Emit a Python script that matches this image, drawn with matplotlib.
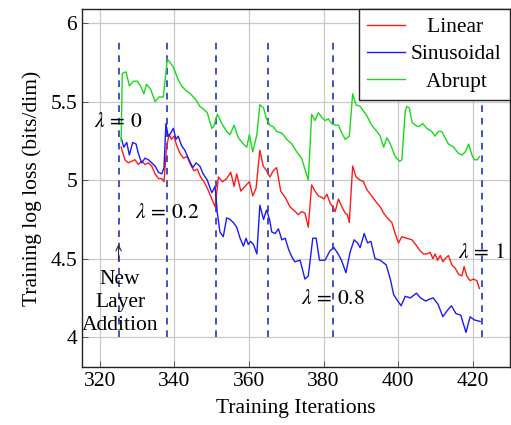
import matplotlib
matplotlib.use("Agg")
import matplotlib.pyplot as plt

plt.rcParams['font.family'] = ['Liberation Serif', 'DejaVu Serif']
plt.rcParams['mathtext.fontset'] = 'stix'

# ---- data ----
linear_x = [325.7, 326.7, 327.6, 328.5, 329.4, 330.3, 331.2, 332.1, 333.0, 333.9, 334.8, 335.7, 336.6, 337.2,
            337.9, 338.6, 339.2, 339.9, 340.6, 341.5, 342.4, 343.4, 344.3, 345.2, 346.1, 347.0, 347.9, 348.8,
            349.5, 350.2, 350.9, 351.8, 352.9, 354.0, 355.1, 356.0, 356.7, 357.8, 358.9, 360.1, 361.0, 361.9,
            362.9, 363.8, 364.7, 365.6, 366.5, 367.4, 368.5, 369.7, 371.0, 372.4, 373.2, 374.1, 375.0, 375.9,
            376.8, 377.7, 378.6, 379.5, 380.1, 380.9, 381.8, 382.5, 383.1, 384.0, 384.9, 385.8, 386.4, 386.9,
            387.8, 388.7, 389.8, 390.7, 391.6, 392.9, 394.1, 395.2, 396.1, 397.1, 398.3, 399.2, 400.1, 401.0,
            402.3, 403.7, 405.0, 405.9, 406.8, 407.7, 408.6, 409.3, 409.9, 410.6, 411.3, 412.0, 412.6, 413.5,
            414.4, 415.3, 416.2, 417.1, 417.7, 418.4, 419.3, 420.2, 421.1, 421.8]
linear_y = [5.21, 5.13, 5.11, 5.12, 5.13, 5.10, 5.12, 5.10, 5.11, 5.09, 5.04, 5.01, 5.01, 4.99,
            5.22, 5.29, 5.26, 5.28, 5.22, 5.17, 5.14, 5.15, 5.10, 5.06, 5.07, 5.02, 4.99, 4.95,
            4.91, 4.87, 4.83, 5.02, 4.99, 5.01, 5.05, 4.96, 5.04, 4.93, 4.96, 4.99, 4.90, 4.95,
            5.19, 5.09, 5.06, 5.02, 5.06, 5.08, 4.93, 4.89, 4.83, 4.80, 4.78, 4.80, 4.79, 4.70,
            4.97, 4.93, 4.90, 4.89, 4.88, 4.91, 4.85, 4.83, 4.80, 4.88, 4.83, 4.79, 4.78, 4.73,
            5.09, 5.02, 5.00, 4.99, 4.94, 4.90, 4.86, 4.83, 4.79, 4.76, 4.73, 4.66, 4.60, 4.64,
            4.63, 4.62, 4.58, 4.55, 4.53, 4.53, 4.54, 4.50, 4.53, 4.49, 4.52, 4.48, 4.50, 4.52,
            4.46, 4.44, 4.40, 4.39, 4.45, 4.39, 4.36, 4.37, 4.36, 4.31]

sinusoidal_x = [325.7, 326.4, 327.2, 327.9, 328.8, 329.7, 330.3, 331.2, 332.1, 333.0, 333.9, 334.8, 335.7, 336.6,
                337.2, 337.7, 338.3, 339.0, 339.7, 340.4, 341.0, 341.9, 342.8, 343.7, 344.9, 345.8, 346.8, 347.7,
                348.8, 349.7, 350.0, 350.9, 351.5, 352.2, 353.1, 354.0, 354.9, 355.8, 356.7, 357.6, 358.5, 359.2,
                359.8, 360.4, 361.2, 362.1, 362.9, 363.9, 364.7, 365.5, 366.1, 367.0, 367.9, 368.8, 369.7, 370.6,
                371.5, 372.3, 373.7, 375.0, 375.9, 377.1, 378.0, 378.9, 380.4, 381.7, 382.8, 383.9, 384.8, 386.0,
                387.1, 388.2, 389.1, 389.8, 390.9, 391.8, 392.7, 393.8, 395.2, 396.8, 397.9, 398.8, 399.9, 400.8,
                401.9, 403.3, 404.9, 406.0, 407.4, 408.2, 409.4, 410.7, 412.0, 413.2, 414.3, 415.5, 416.8, 418.2,
                419.3, 420.4, 422.0]
sinusoidal_y = [5.27, 5.21, 5.24, 5.16, 5.24, 5.23, 5.17, 5.11, 5.14, 5.13, 5.11, 5.09, 5.05, 5.04,
                5.08, 5.36, 5.28, 5.30, 5.33, 5.26, 5.28, 5.22, 5.19, 5.14, 5.08, 5.11, 5.09, 5.04,
                5.00, 4.94, 4.92, 4.96, 4.79, 4.67, 4.64, 4.76, 4.75, 4.73, 4.70, 4.63, 4.58, 4.63,
                4.59, 4.61, 4.59, 4.53, 4.84, 4.75, 4.81, 4.75, 4.67, 4.66, 4.69, 4.62, 4.63, 4.56,
                4.51, 4.48, 4.49, 4.37, 4.39, 4.63, 4.63, 4.49, 4.49, 4.55, 4.57, 4.53, 4.49, 4.41,
                4.54, 4.62, 4.60, 4.57, 4.66, 4.60, 4.61, 4.50, 4.49, 4.46, 4.37, 4.27, 4.23, 4.20,
                4.26, 4.25, 4.28, 4.25, 4.23, 4.24, 4.25, 4.21, 4.13, 4.17, 4.20, 4.15, 4.14, 4.03,
                4.13, 4.11, 4.10]

abrupt_x = [325.7, 326.0, 327.0, 327.9, 329.0, 330.0, 330.9, 331.8, 332.5, 333.6, 334.8, 335.9, 337.0, 338.1,
            338.8, 339.7, 341.0, 341.9, 343.1, 344.3, 345.8, 346.8, 347.9, 348.8, 350.0, 350.5, 351.5, 352.7,
            354.0, 354.9, 356.0, 357.1, 358.5, 359.4, 360.1, 361.0, 362.1, 362.9, 363.9, 364.7, 365.6, 366.5,
            367.4, 368.8, 370.1, 371.5, 372.8, 374.1, 375.9, 376.8, 377.7, 378.6, 379.5, 380.4, 381.3, 382.2,
            383.1, 384.0, 384.9, 385.8, 386.9, 387.8, 388.7, 389.8, 390.7, 391.6, 392.9, 394.3, 395.2, 396.1,
            397.0, 397.9, 399.2, 400.4, 401.0, 401.9, 402.3, 403.0, 403.7, 404.6, 405.5, 406.6, 407.7, 409.0,
            409.9, 410.8, 411.7, 412.6, 413.5, 414.9, 416.2, 417.1, 418.0, 418.9, 419.8, 420.4, 421.3, 421.8]
abrupt_y = [5.25, 5.68, 5.69, 5.60, 5.63, 5.63, 5.60, 5.55, 5.61, 5.58, 5.50, 5.53, 5.53, 5.77,
            5.75, 5.72, 5.64, 5.60, 5.57, 5.55, 5.51, 5.47, 5.45, 5.43, 5.33, 5.34, 5.42, 5.36,
            5.31, 5.29, 5.35, 5.27, 5.23, 5.21, 5.29, 5.18, 5.29, 5.48, 5.46, 5.39, 5.35, 5.34,
            5.31, 5.30, 5.26, 5.23, 5.18, 5.14, 5.00, 5.42, 5.38, 5.43, 5.40, 5.38, 5.39, 5.36,
            5.35, 5.35, 5.30, 5.26, 5.28, 5.55, 5.48, 5.47, 5.44, 5.41, 5.35, 5.31, 5.28, 5.21,
            5.27, 5.23, 5.15, 5.12, 5.13, 5.44, 5.47, 5.46, 5.37, 5.35, 5.34, 5.36, 5.33, 5.31,
            5.28, 5.31, 5.31, 5.27, 5.23, 5.21, 5.17, 5.16, 5.18, 5.23, 5.16, 5.13, 5.13, 5.15]

series_labels = ['Linear', 'Sinusoidal', 'Abrupt']
lambda_x = [325, 338, 351.2, 365.2, 382.4, 422.4]
lambda_texts = [r'$\lambda\,=\,0$', r'$\lambda\,=\,0.2$', r'$\lambda\,=\,0.8$', r'$\lambda\,=\,1$']
lambda_text_x = [325, 338, 382.4, 422.4]
lambda_text_y = [5.37, 4.79, 4.24, 4.53]
x_ticks = [320, 340, 360, 380, 400, 420]
y_ticks = [4, 4.5, 5, 5.5, 6]
y_ticklabels = ['4', '4.5', '5', '5.5', '6']

# ---- figure ----
fig = plt.figure(figsize=(5.11, 4.25), dpi=100)
ax = fig.add_axes([0.1605, 0.1365, 0.8375, 0.8423])

fs = 15.5
lbl_pad = ['   ' + series_labels[0], series_labels[1], '   ' + series_labels[2]]
ax.plot(linear_x, linear_y, color='#ff1a1a', lw=1.0, label=lbl_pad[0], zorder=3)
ax.plot(sinusoidal_x, sinusoidal_y, color='#1a1aff', lw=1.0, label=lbl_pad[1], zorder=3)
ax.plot(abrupt_x, abrupt_y, color='#1ad91a', lw=1.0, label=lbl_pad[2], zorder=3)

for xv in lambda_x:
    ax.plot([xv, xv], [4.0, 5.9], color='#2233bb', lw=1.2, linestyle=(0, (4, 3.5)), zorder=2)

for t, xv, yv in zip(lambda_texts, lambda_text_x, lambda_text_y):
    ax.text(xv, yv, t, fontsize=fs, ha='center', va='center', zorder=4, clip_on=False)

ax.annotate('', xy=(325, 4.61), xytext=(325, 4.47),
            arrowprops=dict(arrowstyle='->', color='#333333', lw=0.8), zorder=4)
ax.text(325.4, 4.22, 'New\nLayer\nAddition', fontsize=fs, ha='center', va='center',
        linespacing=1.3, zorder=4)

ax.set_xlim(315.2, 430)
ax.set_ylim(3.81, 6.09)
ax.set_xticks(x_ticks)
ax.set_yticks(y_ticks)
ax.set_yticklabels(y_ticklabels)
ax.tick_params(direction='in', length=4, width=0.6, labelsize=fs, color='#444444')
ax.grid(True, color='#c8c8c8', lw=0.9)
ax.set_axisbelow(True)
for s in ax.spines.values():
    s.set_linewidth(1.0)
    s.set_color('#222222')

ax.set_xlabel('Training Iterations', fontsize=fs, labelpad=6)
ax.set_ylabel('Training log loss (bits/dim)', fontsize=fs, labelpad=6)

leg = ax.legend(loc='upper right', bbox_to_anchor=(1.0, 1.0), borderaxespad=0.0,
                fancybox=False, edgecolor='#222222', framealpha=1.0,
                prop={'family': 'Liberation Serif', 'size': fs},
                handlelength=1.75, handletextpad=0.3, labelspacing=0.33,
                borderpad=0.38)
leg.get_frame().set_linewidth(1.0)

fig.savefig('out.png', dpi=100)
